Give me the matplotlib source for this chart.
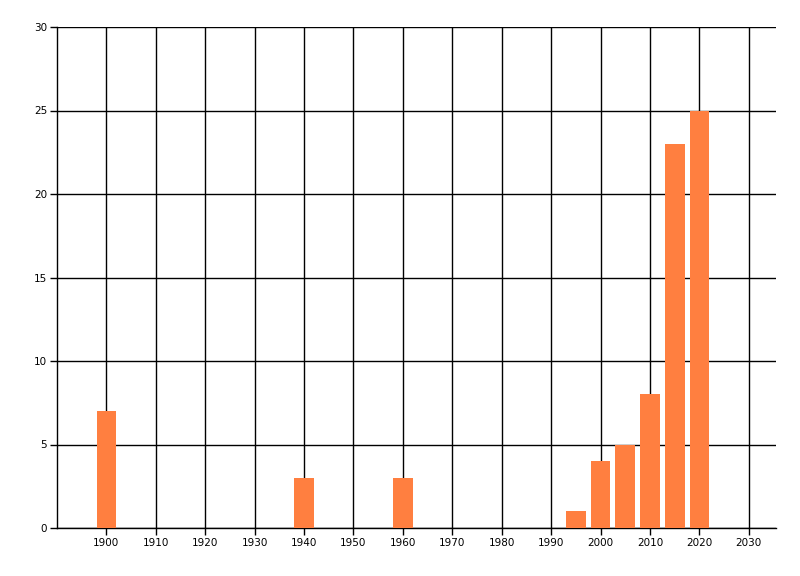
import matplotlib
matplotlib.use('Agg')
import matplotlib.pyplot as plt

# Данные
years = [1900, 1940, 1960, 1995, 2000, 2005, 2010, 2015, 2020]
counts = [7, 3, 3, 1, 4, 5, 8, 23, 25]
xticks = list(range(1900, 2031, 10))
yticks = [0, 5, 10, 15, 20, 25, 30]

fig = plt.figure(figsize=(8, 5.76), dpi=100)
ax = fig.add_axes([57/800, 1 - 528/576, (776 - 57)/800, (528 - 27)/576])

ax.bar(years, counts, width=4, color='#ff7f40', zorder=3)

ax.set_xlim(1890, 2035.5)
ax.set_ylim(0, 30)
ax.set_xticks(xticks)
ax.set_yticks(yticks)
ax.tick_params(labelsize=7.5, length=5, width=1, color='black', pad=2)

ax.grid(True, color='black', linewidth=1)
ax.set_axisbelow(True)
for s in ['top', 'right']:
    ax.spines[s].set_visible(False)
for s in ['left', 'bottom']:
    ax.spines[s].set_linewidth(1)

fig.savefig('out.png', dpi=100)
